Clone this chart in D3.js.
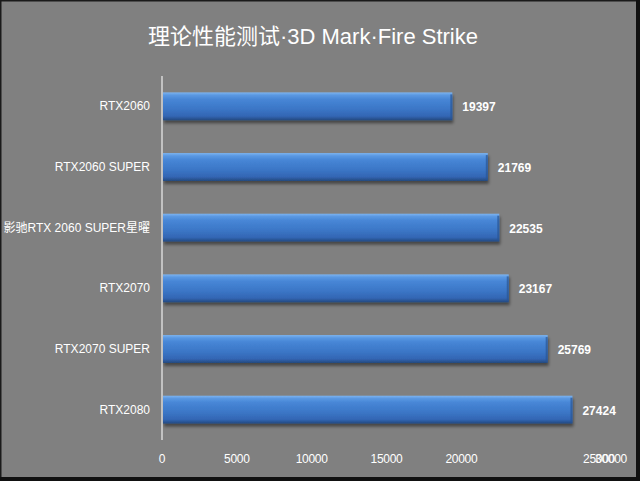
<!DOCTYPE html>
<html><head><meta charset="utf-8">
<script src="https://cdn.jsdelivr.net/npm/d3@7"></script>
<style>
html,body{margin:0;padding:0;background:#808080;}
svg{display:block;}
text{font-family:"Liberation Sans",Arial,"Noto Sans CJK SC",sans-serif;fill:#ffffff;}
</style></head>
<body>
<svg id="c" width="640" height="481"></svg>
<script>
const title = "理论性能测试·3D Mark·Fire Strike";
const categories = ["RTX2060","RTX2060 SUPER","影驰RTX 2060 SUPER星曜","RTX2070","RTX2070 SUPER","RTX2080"];
const values = [19397,21769,22535,23167,25769,27424];
const tickValues = [0,5000,10000,15000,20000,25000,30000];
const tickLabels = ["0","5000","10000","15000","20000","25000","30000"];

const W=640,H=481;
const svg=d3.select("#c");
svg.append("rect").attr("x",0).attr("y",0).attr("width",W).attr("height",H).attr("fill","#808080");

const defs=svg.append("defs");
const g1=defs.append("linearGradient").attr("id","barg").attr("x1",0).attr("y1",0).attr("x2",0).attr("y2",1);
[[0,"#7db4f0"],[0.1,"#5a98e2"],[0.25,"#4786d6"],[0.6,"#3b76c6"],[0.85,"#3366b4"],[1,"#23497f"]].forEach(s=>g1.append("stop").attr("offset",s[0]).attr("stop-color",s[1]));
const f=defs.append("filter").attr("id","sh").attr("x","-5%").attr("y","-20%").attr("width","115%").attr("height","160%");
f.append("feGaussianBlur").attr("in","SourceAlpha").attr("stdDeviation",1.6).attr("result","b");
f.append("feOffset").attr("in","b").attr("dx",1).attr("dy",3).attr("result","o");
f.append("feComponentTransfer").attr("in","o").attr("result","o2").append("feFuncA").attr("type","linear").attr("slope",0.45);
const m=f.append("feMerge"); m.append("feMergeNode").attr("in","o2"); m.append("feMergeNode").attr("in","SourceGraphic");

const x=d3.scaleLinear().domain([0,30000]).range([162,611]);
const y=d3.scaleBand().domain(categories).range([76,440]).paddingInner(0.54).paddingOuter(0.27);

// title
svg.append("text").attr("x",313).attr("y",44).attr("text-anchor","middle")
  .style("font-family","'Liberation Sans','Noto Sans CJK SC',sans-serif").style("font-size","22px").text(title);

// bars
const bars=svg.append("g");
bars.selectAll("rect.bar").data(values).join("rect").attr("class","bar")
  .attr("x",x(0)+1).attr("y",(d,i)=>y(categories[i]))
  .attr("width",d=>x(d)-x(0)-1).attr("height",y.bandwidth())
  .attr("fill","url(#barg)").attr("filter","url(#sh)");
// right bevel
bars.selectAll("rect.bev").data(values).join("rect").attr("class","bev")
  .attr("x",d=>x(d)-2).attr("y",(d,i)=>y(categories[i])+2)
  .attr("width",2).attr("height",y.bandwidth()-3).attr("fill","#2a5594").attr("opacity",0.7);

// axis line
svg.append("line").attr("x1",x(0)).attr("x2",x(0)).attr("y1",76).attr("y2",440)
  .attr("stroke","#d8d8d8").attr("stroke-width",1.5);

// category labels
svg.append("g").selectAll("text").data(categories).join("text")
  .attr("x",150).attr("y",d=>y(d)+y.bandwidth()/2+4).attr("text-anchor","end")
  .style("font-size","12px").text(d=>d);

// value labels
svg.append("g").selectAll("text").data(values).join("text")
  .attr("x",d=>x(d)+10).attr("y",(d,i)=>y(categories[i])+y.bandwidth()/2+5)
  .style("font-size","12px").style("font-weight","bold").text(d=>d);

// x tick labels (the last two are crowded together at the right end, as in the reference)
const tl=svg.append("g");
tickValues.forEach((v,i)=>{
  let px=x(v);
  if(v===25000){ px=x(30000)-12; }
  tl.append("text").attr("x",px).attr("y",463).attr("text-anchor","middle")
    .style("font-size","12px").style("letter-spacing","-0.3px").text(tickLabels[i]);
});

// frame borders
svg.append("rect").attr("x",0).attr("y",0).attr("width",W).attr("height",1.5).attr("fill","#1a1a1a");
svg.append("rect").attr("x",0).attr("y",0).attr("width",1.5).attr("height",H).attr("fill","#1a1a1a");
svg.append("rect").attr("x",636).attr("y",0).attr("width",4).attr("height",H).attr("fill","#111");
svg.append("rect").attr("x",0).attr("y",477).attr("width",W).attr("height",4).attr("fill","#111");
</script>
</body></html>
